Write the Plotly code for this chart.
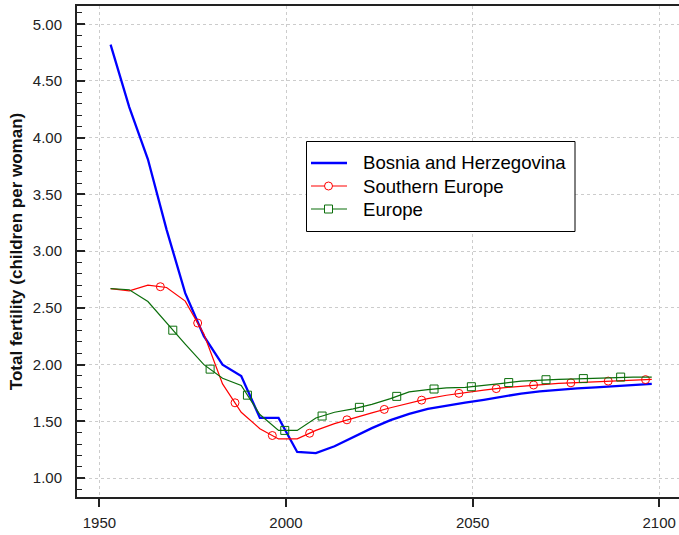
import numpy as np
import plotly.graph_objects as go

# Period mid-years for five-year estimates/projections
years = [1953 + 5 * k for k in range(30)]

bosnia = [4.82, 4.27, 3.81, 3.19, 2.63, 2.25, 2.00, 1.90, 1.53, 1.53,
          1.23, 1.22, 1.28, 1.36, 1.44, 1.51, 1.565, 1.61, 1.64, 1.665,
          1.69, 1.72, 1.745, 1.765, 1.78, 1.79, 1.80, 1.81, 1.82, 1.83]

southern_europe = [2.67, 2.65, 2.70, 2.68, 2.56, 2.27, 1.83, 1.58, 1.435, 1.345,
                   1.345, 1.42, 1.48, 1.53, 1.575, 1.62, 1.66, 1.70, 1.73, 1.755,
                   1.775, 1.795, 1.81, 1.825, 1.835, 1.842, 1.85, 1.857, 1.863, 1.87]

europe = [2.67, 2.66, 2.556, 2.365, 2.18, 2.00, 1.88, 1.816, 1.56, 1.42,
          1.42, 1.53, 1.58, 1.61, 1.65, 1.70, 1.76, 1.78, 1.795, 1.80,
          1.815, 1.835, 1.855, 1.865, 1.87, 1.875, 1.88, 1.89, 1.89, 1.89]

names = ["Bosnia and Herzegovina", "Southern Europe", "Europe"]
values = [bosnia, southern_europe, europe]
colors = ["#0000ff", "#ff0000", "#0b6e0b"]
widths = [2.3, 1.2, 1.2]
symbols = [None, "circle-open", "square-open"]

FONT = "Liberation Sans, Arial, sans-serif"
W, H = 679, 535
ML, MR, MT, MB = 77, 0, 6, 38


def px_x(p):
    return (p - ML) / (W - ML - MR)


def px_y(p):
    return (H - MB - p) / (H - MT - MB)


fig = go.Figure()

for i, (name, vals, color, width, symbol) in enumerate(zip(names, values, colors, widths, symbols)):
    fig.add_trace(go.Scatter(x=years, y=vals, name=name, mode="lines", showlegend=False,
                             line=dict(color=color, width=width)))
    if symbol is None:
        continue
    # markers every ten years, staggered between series
    mx = np.arange(years[0] + 10 + 10 * i / 3, years[-1], 10)
    my = np.interp(mx, years, vals)
    fig.add_trace(go.Scatter(x=mx, y=my, mode="markers", showlegend=False, name=name,
                             marker=dict(symbol=symbol, size=8, color=color,
                                         line=dict(color=color, width=1))))

# Legend panel drawn with shapes and annotations
shapes = [dict(type="rect", xref="paper", yref="paper",
               x0=px_x(306.5), x1=px_x(575), y0=px_y(231.5), y1=px_y(141.5),
               line=dict(color="black", width=1), fillcolor="white", layer="above")]
annotations = []
row_y = [163, 186, 209]
for name, color, width, symbol, ry in zip(names, colors, widths, symbols, row_y):
    shapes.append(dict(type="line", xref="paper", yref="paper",
                       x0=px_x(311), x1=px_x(347), y0=px_y(ry), y1=px_y(ry),
                       line=dict(color=color, width=width), layer="above"))
    if symbol is not None:
        shapes.append(dict(type="circle" if symbol.startswith("circle") else "rect",
                           xref="paper", yref="paper",
                           xsizemode="pixel", ysizemode="pixel",
                           xanchor=px_x(328.5), yanchor=px_y(ry),
                           x0=-4, x1=4, y0=-4, y1=4,
                           line=dict(color=color, width=1), fillcolor="white",
                           layer="above"))
    annotations.append(dict(text=name, xref="paper", yref="paper",
                            x=px_x(361), y=px_y(ry), xanchor="left", yanchor="middle",
                            showarrow=False,
                            font=dict(family=FONT, size=18.6, color="#000000")))

fig.update_layout(
    width=W, height=H,
    margin=dict(l=ML, r=MR, t=MT, b=MB),
    paper_bgcolor="white", plot_bgcolor="white",
    font=dict(family=FONT, size=15, color="#222222"),
    showlegend=False,
    shapes=shapes,
    annotations=annotations,
)

fig.update_xaxes(
    range=[1944.0, 2105.3], tickvals=[1950, 2000, 2050, 2100],
    ticks="outside", ticklen=8, tickcolor="#222222", tickwidth=1.5,
    showline=True, linecolor="#222222", linewidth=2, mirror=True,
    showgrid=True, gridcolor="#cccccc", griddash="dot", gridwidth=1,
    zeroline=False, tickfont=dict(size=15, color="#222222"),
    ticklabelstandoff=3,
)

fig.update_yaxes(
    range=[0.833, 5.161], tick0=1.0, dtick=0.5, tickformat=".2f",
    ticks="inside", ticklen=8, tickcolor="#222222", tickwidth=1.5,
    showline=True, linecolor="#222222", linewidth=2,
    showgrid=True, gridcolor="#cccccc", griddash="dot", gridwidth=1,
    zeroline=False, ticklabelstandoff=10,
    minor=dict(dtick=0.1, tick0=1.0, ticks="inside", ticklen=5,
               tickcolor="#222222", tickwidth=1.2, showgrid=False),
    title=dict(text="<b>Total fertility (children per woman)</b>",
               font=dict(size=17, color="#111111"), standoff=6),
    tickfont=dict(size=15, color="#222222"),
)

fig.write_html("out.html")
